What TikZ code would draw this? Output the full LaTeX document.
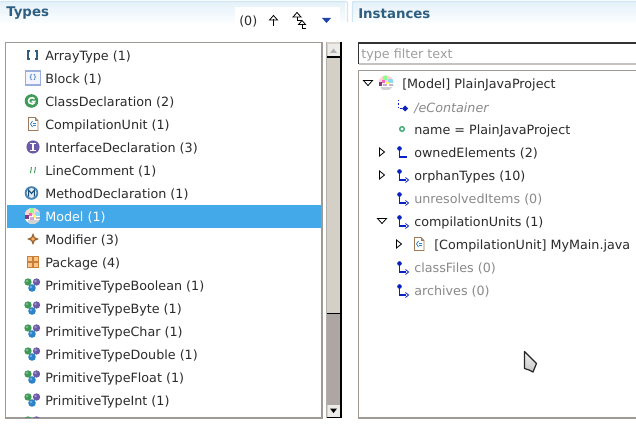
\documentclass[tikz,border=0pt]{standalone}
\usepackage{fontspec}
\setmainfont{DejaVu Sans}
\usetikzlibrary{arrows.meta,shadings}
\definecolor{txt}{HTML}{2B2B2B}
\definecolor{dim}{HTML}{8A8A8A}
\definecolor{sel}{HTML}{43A9E8}
\definecolor{hdr}{HTML}{2F5F80}
\definecolor{frame}{HTML}{A09A96}
\definecolor{tabline}{HTML}{CFE6F4}
\definecolor{sbar}{HTML}{D4D0C8}
\definecolor{trough}{HTML}{AEA6A2}
\definecolor{refblue}{HTML}{0A22C0}
\definecolor{gball}{HTML}{3F9A55}
\definecolor{pball}{HTML}{6C5BA8}
\definecolor{bball}{HTML}{2C83C8}
\tikzset{
  rowtext/.style={anchor=west,inner sep=0pt,yshift=-0.6pt,font=\fontsize{9.55pt}{11pt}\selectfont,text=txt},
  dimtext/.style={rowtext,text=dim},
  header/.style={anchor=west,inner sep=0pt,yshift=-0.6pt,font=\fontsize{10pt}{11pt}\selectfont\bfseries,text=hdr},
  refline/.style={draw=refblue,line width=.8pt},
  tog/.style={draw=black,fill=white,line width=.6pt,line join=miter},
  tool/.style={draw=black,line width=.6pt},
}
\newcommand{\primball}[1]{%
  \fill[gball] (28,#1-3) circle (3.7);
  \fill[pball] (36.5,#1-3) circle (3.7);
  \fill[bball] (32,#1+3) circle (3.8);
  \fill[white,opacity=.35] (27,#1-4) circle (1.3) (35.5,#1-4) circle (1.3) (31,#1+2) circle (1.3);}
\newcommand{\modelball}[3]{%
  \begin{scope}
    \clip (#1,#2) circle (#3);
    \fill[white] (#1-#3,#2-#3) rectangle (#1+#3,#2+#3);
    \fill[pink!70!white] (#1-#3,#2-#3) rectangle (#1+#3,#2-1);
    \fill[green!45!white] (#1-3,#2-#3) rectangle (#1+1,#2-3);
    \fill[violet!55!gray] (#1-#3,#2-1) rectangle (#1-4,#2+3);
    \fill[magenta!60!white] (#1-4,#2-3) rectangle (#1-1,#2);
    \fill[cyan!45!white] (#1+2,#2-4) rectangle (#1+#3,#2);
    \fill[yellow!60!white] (#1,#2-1) rectangle (#1+3,#2+1.5);
    \fill[violet!35!white] (#1-3,#2+1) rectangle (#1+1,#2+3.5);
    \fill[gray!55] (#1+3,#2+1) rectangle (#1+#3,#2+3);
    \fill[gray!35] (#1-5,#2+4) rectangle (#1+#3,#2+#3);
  \end{scope}}
\newcommand{\pageicon}[2]{%
  \draw[draw=brown!70!black!80,fill=white,line width=.7pt] (#1-4.5,#2-6.5) -- (#1+2,#2-6.5) -- (#1+5,#2-3.5) -- (#1+5,#2+6.5) -- (#1-4.5,#2+6.5) -- cycle;
  \draw[draw=brown!70!black!80,line width=.5pt] (#1+2,#2-6.5) -- (#1+2,#2-3.5) -- (#1+5,#2-3.5);
  \draw[bball,line width=.6pt] (#1-.5,#2-3) -- (#1-2.5,#2) -- (#1-.5,#2+3);
  \draw[bball,line width=.6pt] (#1,#2-1) -- (#1+2.5,#2-1) (#1,#2+1) -- (#1+2.5,#2+1);}
\newcommand{\refarrow}[1]{%
  \draw[refline] (399.5,#1-3) -- (399.5,#1+5) -- (406,#1+5);
  \fill[refblue] (399.5,#1-3.5) circle (2.3);
  \draw[refblue,line width=.6pt] (405.5,#1+2.5) -- (408.5,#1+5) -- (405.5,#1+7.5);}
\newcommand{\containref}[1]{%
  \draw[refline] (399.5,#1-3) -- (399.5,#1+5) -- (407,#1+5);
  \fill[refblue] (399.5,#1-3.5) circle (2.3);}
\newcommand{\closedtog}[2]{\draw[tog] (#1-2.5,#2-4) -- (#1+2.5,#2) -- (#1-2.5,#2+4) -- cycle;}
\newcommand{\opentog}[2]{\draw[tog] (#1-4.5,#2-2.5) -- (#1+4.5,#2-2.5) -- (#1,#2+2.5) -- cycle;}
\begin{document}
\begin{tikzpicture}[x=0.75pt,y=-0.75pt]
\useasboundingbox (0,0) rectangle (636,428);
\fill[white] (0,0) rectangle (636,428);
% headers
\shade[top color=tabline!55,bottom color=white] (0,2) rectangle (345,25);
\shade[top color=tabline!55,bottom color=white] (352,2) rectangle (636,25);
\draw[tabline,line width=.8pt] (0,1.5) -- (346,1.5) -- (347.5,3) -- (347.5,22);
\draw[tabline,line width=.8pt] (352.5,22) -- (352.5,3) -- (354,1.5) -- (636,1.5);
\node[header] (typeshead) at (6,12.5) {Types};
\node[header] (insthead) at (358,12.5) {Instances};
% toolbar
\fill[white] (235,7) rectangle (340,36);
\node[rowtext] (count) at (239,21) {(0)};
\draw[tool] (273.5,26) -- (273.5,19.5);
\draw[tool] (269.5,20) -- (273.5,15.5) -- (277.5,20) -- cycle;
\draw[tool] (297,17) -- (297,20) -- (302,20);
\draw[tool] (293,17) -- (297,12.5) -- (301,17) -- cycle;
\draw[tool] (302,25) -- (302,28) -- (306,28);
\draw[tool] (298.5,24.5) -- (302,20.5) -- (305.5,24.5) -- cycle;
\fill[hdr!70!blue] (322,18) -- (331,18) -- (326.5,23) -- cycle;
% left list
\draw[frame,line width=1pt] (5.5,42.5) rectangle (322,418);
\fill[sel] (7,205) rectangle (321,228);
% scrollbar
\fill[sbar] (326,42) rectangle (341,418);
\fill[trough] (327,314) rectangle (340,405);
\draw[sbar!85!black,line width=1pt] (326.5,42) -- (326.5,418);
\fill[sbar!40!white] (328,44) rectangle (340,57);
\fill[gray!60] (330,53) -- (337,53) -- (333.5,48.5) -- cycle;
\draw[black,line width=.8pt] (327,57) -- (340.5,57);
\fill[sbar] (328,58) rectangle (340,313);
\draw[black,line width=.8pt] (327,313.5) -- (340.5,313.5);
\draw[black,line width=1pt] (341,42) -- (341,418);
\fill[sbar!40!white] (328,405) rectangle (340,417);
\fill[black] (330,408.5) -- (337,408.5) -- (333.5,413) -- cycle;
\draw[black,line width=.8pt] (327,417.5) -- (341,417.5);
% left icons
\draw[hdr,line width=.9pt] (30,51) -- (28,51) -- (28,59) -- (30,59) (35,51) -- (37,51) -- (37,59) -- (35,59);
\draw[cyan!40!blue!40,fill=blue!4,line width=.8pt] (25.5,71) rectangle (40.5,85);
\node[inner sep=0pt,font=\fontsize{5pt}{5pt}\selectfont,text=blue!50!cyan!70!black] (blockglyph) at (33,78) {\{\}};
\fill[gball] (31.5,101) circle (6.8);
\draw[white,line width=1.2pt] (34.5,98.8) arc (-40:-320:3.4 and 3.2) (31.5,101.5) -- (35.5,101.5);
\pageicon{33}{124}
\fill[pball] (33,147) circle (6.6);
\draw[white,line width=1.2pt] (30,143.5) -- (36,143.5) (30,150.5) -- (36,150.5) (33,143.5) -- (33,150.5);
\draw[gball,line width=.7pt] (30.5,173) -- (31.5,167) (34.5,173) -- (35.5,167);
\fill[bball!65!gray] (31.5,193) circle (6.8);
\fill[white!85!bball] (31.5,193) circle (5);
\draw[bball!60!black,line width=.8pt] (28.6,196.5) -- (28.6,190) -- (31.5,193.5) -- (34.4,190) -- (34.4,196.5);
\modelball{32.5}{216}{8}
\fill[brown!80!black] (33,233) -- (34.8,237.2) -- (39,239) -- (34.8,240.8) -- (33,245) -- (31.2,240.8) -- (27,239) -- (31.2,237.2) -- cycle;
\fill[orange!60!white] (33,239) circle (1.8);
\draw[brown!85!orange,fill=orange!45!white,line width=.8pt] (27.5,256.5) rectangle (38.5,267.5);
\draw[brown!85!orange,line width=.8pt] (33,256.5) -- (33,267.5) (27.5,262) -- (38.5,262);
\primball{285}\primball{308}\primball{331}\primball{354}\primball{377}\primball{400}
\begin{scope}
  \clip (7,414) rectangle (321,417.5);
  \primball{423}
\end{scope}
% left rows
\node[rowtext] (r1) at (45,56) {ArrayType (1)};
\node[rowtext] (r2) at (45,79) {Block (1)};
\node[rowtext] (r3) at (45,102) {ClassDeclaration (2)};
\node[rowtext] (r4) at (45,125) {CompilationUnit (1)};
\node[rowtext] (r5) at (45,148) {InterfaceDeclaration (3)};
\node[rowtext] (r6) at (45,171) {LineComment (1)};
\node[rowtext] (r7) at (45,194) {MethodDeclaration (1)};
\node[rowtext,text=white] (r8) at (45,217) {Model (1)};
\node[rowtext] (r9) at (45,240) {Modifier (3)};
\node[rowtext] (r10) at (45,263) {Package (4)};
\node[rowtext] (r11) at (45,286) {PrimitiveTypeBoolean (1)};
\node[rowtext] (r12) at (45,309) {PrimitiveTypeByte (1)};
\node[rowtext] (r13) at (45,332) {PrimitiveTypeChar (1)};
\node[rowtext] (r14) at (45,355) {PrimitiveTypeDouble (1)};
\node[rowtext] (r15) at (45,378) {PrimitiveTypeFloat (1)};
\node[rowtext] (r16) at (45,401) {PrimitiveTypeInt (1)};
% right panel
\draw[frame,line width=1pt] (636.5,70.5) -- (358.5,70.5) -- (358.5,418) -- (636.5,418);
\draw[frame!60,line width=.8pt] (636,64) -- (359,64);
\draw[black!80,line width=1pt] (358.5,64) -- (358.5,43) -- (636,43);
\node[dimtext,text=gray!75] (filter) at (361,54.5) {type filter text};
% right icons
\opentog{368}{83}
\modelball{386}{83}{7.5}
\draw[refblue,line width=.9pt,dash pattern=on 1pt off 1.6pt] (398.5,100) -- (398.5,108.5) -- (402,108.5);
\fill[refblue] (405,105.5) -- (408,108.5) -- (405,111.5) -- (402,108.5) -- cycle;
\draw[gball!85!cyan,line width=1pt] (402,129) circle (2.3);
\closedtog{382}{152}
\containref{152}
\closedtog{382}{175}
\refarrow{175}
\refarrow{198}
\opentog{382}{221}
\refarrow{221}
\closedtog{399}{244}
\pageicon{419}{244}
\refarrow{267}
\refarrow{290}
% right rows
\node[rowtext] (i1) at (402,84) {[Model] PlainJavaProject};
\node[dimtext,font=\fontsize{9.55pt}{11pt}\selectfont\itshape] (i2) at (414,107) {/eContainer};
\node[rowtext] (i3) at (414,130) {name = PlainJavaProject};
\node[rowtext] (i4) at (414,153) {ownedElements (2)};
\node[rowtext] (i5) at (414,176) {orphanTypes (10)};
\node[dimtext] (i6) at (414,199) {unresolvedItems (0)};
\node[rowtext] (i7) at (414,222) {compilationUnits (1)};
\node[rowtext] (i8) at (434,245) {[CompilationUnit] MyMain.java};
\node[dimtext] (i9) at (414,268) {classFiles (0)};
\node[dimtext] (i10) at (414,291) {archives (0)};
% pointer
\draw[black!85,line width=.9pt,line join=round,top color=gray!10,bottom color=gray!45] (524.5,351.5) -- (536.5,363.5) -- (533,372) -- (529,370) -- (524.5,368.5) -- cycle;
\end{tikzpicture}
\end{document}
